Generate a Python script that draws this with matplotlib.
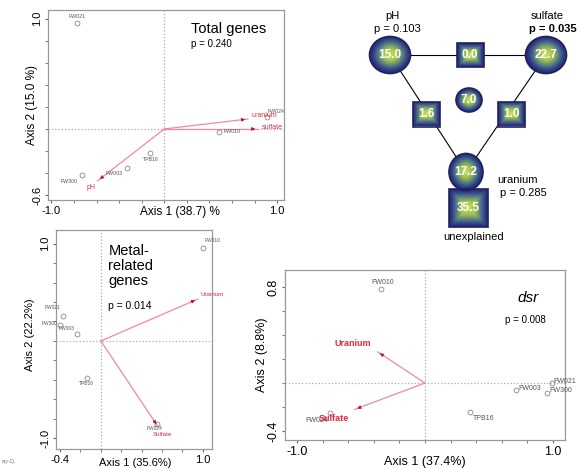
import numpy as np
import matplotlib
matplotlib.use('Agg')
import matplotlib.pyplot as plt
from matplotlib.patches import Ellipse, Rectangle
from matplotlib.colors import LinearSegmentedColormap
from matplotlib.ticker import MultipleLocator

plt.rcParams['font.family'] = ['Liberation Sans', 'DejaVu Sans']

# Total genes (CCA)
total_sites = ['FW021', 'FW300', 'FW003', 'TPB16', 'FW010', 'FW024']
total_x = [-0.77, -0.73, -0.33, -0.13, 0.48, 0.91]
total_y = [0.96, -0.42, -0.35, -0.22, -0.03, 0.11]
total_vars = ['pH', 'uranium', 'sulfate']
total_vx = [-0.59, 0.74, 0.83]
total_vy = [-0.47, 0.09, 0.0]

# Metal-related genes
metal_sites = ['FW010', 'FW021', 'FW300', 'FW003', 'TPB16', 'FW024']
metal_x = [1.0, -0.37, -0.40, -0.23, -0.14, 0.55]
metal_y = [0.96, 0.26, 0.16, 0.07, -0.38, -0.85]
metal_vars = ['Uranium', 'Sulfate']
metal_vx = [0.95, 0.56]
metal_vy = [0.43, -0.88]

# dsr
dsr_sites = ['FW010', 'FW003', 'FW021', 'FW300', 'TPB16', 'FW024']
dsr_x = [-0.34, 0.71, 0.99, 0.95, 0.35, -0.74]
dsr_y = [0.78, -0.06, 0.0, -0.08, -0.24, -0.25]
dsr_vars = ['Uranium', 'Sulfate']
dsr_vx = [-0.37, -0.55]
dsr_vy = [0.26, -0.22]

# variation partitioning (%)
part_names = ['pH', 'sulfate', 'uranium']
part_single = [15.0, 22.7, 17.2]
part_pvals = ['0.103', '0.035', '0.285']
part_pairs = [0.0, 1.6, 1.0]   # pH-sulfate, pH-uranium, sulfate-uranium
part_all = 7.0
part_unexplained = 35.5

W, H = 579, 468
fig = plt.figure(figsize=(W / 100, H / 100), dpi=100)

GREY = '#999999'
LINE = '#f28a9c'
RED = '#e3283e'
HEAD = '#b01830'


def px_axes(l, r, t, b):
    return fig.add_axes([l / W, 1 - b / H, (r - l) / W, (b - t) / H])


def setup(ax, xlim, ylim, xt, yt, tsize):
    ax.set_xlim(xlim)
    ax.set_ylim(ylim)
    for s in ax.spines.values():
        s.set_color(GREY)
        s.set_linewidth(0.9)
    ax.set_xticks(xt)
    ax.set_yticks(yt)
    ax.set_xticklabels(['%.1f' % v for v in xt])
    ax.set_yticklabels(['%.1f' % v for v in yt], rotation=90, va='center')
    ax.xaxis.set_minor_locator(MultipleLocator(0.2))
    ax.yaxis.set_minor_locator(MultipleLocator(0.2))
    ax.tick_params(which='both', length=2, color='#666666', labelsize=tsize, pad=2)
    ax.axhline(0, color='#aaaaaa', ls=':', lw=0.9, zorder=1)
    ax.axvline(0, color='#aaaaaa', ls=':', lw=0.9, zorder=1)


def sites(ax, names, xs, ys, offs, size):
    ax.plot(xs, ys, 'o', mfc='none', mec='#888888', ms=3.5, mew=0.6, zorder=3)
    for n, x, y, (dx, dy, ha) in zip(names, xs, ys, offs):
        ax.annotate(n, (x, y), xytext=(dx, dy), textcoords='offset pixels',
                    ha=ha, va='center', fontsize=size, color='#555555', zorder=4)


def vectors(ax, names, xs, ys, offs, size, bold=False):
    for n, x, y, (dx, dy, ha) in zip(names, xs, ys, offs):
        ax.plot([0, x], [0, y], color=LINE, lw=0.9, zorder=2)
        ax.annotate('', xy=(x, y), xytext=(0.9 * x, 0.9 * y),
                    arrowprops=dict(arrowstyle='-|>', color=HEAD, lw=0.6, mutation_scale=5), zorder=3)
        ax.annotate(n, (x, y), xytext=(dx, dy), textcoords='offset pixels', ha=ha, va='center',
                    fontsize=size, color=RED, fontweight='bold' if bold else 'normal', zorder=4)


# --- Total genes
ax1 = px_axes(48, 284, 10, 200)
setup(ax1, (-1.03, 1.06), (-0.645, 1.08), [-1.0, 1.0], [-0.6, 1.0], 8)
sites(ax1, total_sites, total_x, total_y,
      [(0, 7, 'center'), (-4, -6, 'right'), (-4, -6, 'right'), (1, -6, 'center'), (5, 1, 'left'), (1, 5, 'left')], 3.8)
vectors(ax1, total_vars, total_vx, total_vy, [(-7, -7, 'center'), (4, 4, 'left'), (4, 1, 'left')], 5)
ax1.text(0.604, 0.9, 'Total genes', transform=ax1.transAxes, fontsize=10.5, va='center')
ax1.text(0.604, 0.82, 'p = 0.240', transform=ax1.transAxes, fontsize=7, va='center')
ax1.text(0.56, -0.063, 'Axis 1 (38.7) %', transform=ax1.transAxes, fontsize=8.5, ha='center', va='center')
ax1.text(-0.068, 0.5, 'Axis 2 (15.0 %)', transform=ax1.transAxes, fontsize=8.5, ha='center', va='center', rotation=90)

# --- Metal-related genes
ax3 = px_axes(56, 212, 230, 449)
setup(ax3, (-0.44, 1.09), (-1.11, 1.14), [-0.4, 1.0], [-1.0, 1.0], 8)
sites(ax3, metal_sites, metal_x, metal_y,
      [(2, 7, 'left'), (-3, 8, 'right'), (-3, 2, 'right'), (-3, 6, 'right'), (0, -6, 'center'), (-2, -5, 'center')], 3.5)
vectors(ax3, metal_vars, metal_vx, metal_vy, [(3, 5, 'left'), (4, -8, 'center')], 4.5)
ax3.text(0.335, 0.935, 'Metal-\nrelated\ngenes', transform=ax3.transAxes, fontsize=10.5, va='top', linespacing=1.1)
ax3.text(0.335, 0.655, 'p = 0.014', transform=ax3.transAxes, fontsize=7.5, va='center')
ax3.text(0.51, -0.064, 'Axis 1 (35.6%)', transform=ax3.transAxes, fontsize=8, ha='center', va='center')
ax3.text(-0.167, 0.52, 'Axis 2 (22.2%)', transform=ax3.transAxes, fontsize=8, ha='center', va='center', rotation=90)
fig.text(2 / W, 1 - 461 / H, 'ary-1).', fontsize=3.5, color='#666666', va='center')

# --- dsr
ax4 = px_axes(285, 565, 270, 440)
setup(ax4, (-1.094, 1.094), (-0.475, 0.942), [-1.0, 1.0], [-0.4, 0.8], 9)
sites(ax4, dsr_sites, dsr_x, dsr_y,
      [(1, 7, 'center'), (3, 2, 'left'), (2, 2, 'left'), (3, 2, 'left'), (3, -7, 'left'), (-14, -7, 'center')], 5)
vectors(ax4, dsr_vars, dsr_vx, dsr_vy, [(-25, 8, 'center'), (-21, -9, 'center')], 6.5, bold=True)
ax4.text(0.868, 0.835, 'dsr', transform=ax4.transAxes, fontsize=11, style='italic', ha='center', va='center')
ax4.text(0.785, 0.705, 'p = 0.008', transform=ax4.transAxes, fontsize=7, va='center')
ax4.text(0.5, -0.13, 'Axis 1 (37.4%)', transform=ax4.transAxes, fontsize=9, ha='center', va='center')
ax4.text(-0.082, 0.5, 'Axis 2 (8.8%)', transform=ax4.transAxes, fontsize=9, ha='center', va='center', rotation=90)

# --- variation partitioning diagram, drawn in pixel coordinates
axd = fig.add_axes([0, 0, 1, 1])
axd.set_xlim(0, W)
axd.set_ylim(H, 0)
axd.axis('off')
axd.patch.set_alpha(0)

cmap = LinearSegmentedColormap.from_list(
    'vp', [(0, '#d2e45a'), (0.35, '#9cc050'), (0.65, '#4d7488'), (0.85, '#303f88'), (1, '#262a70')])
NAVY = '#20225e'


def blob(cx, cy, w, h, value, kind, fs=8.5):
    yy, xx = np.mgrid[-1:1:80j, -1:1:80j]
    if kind == 'circle':
        d = np.sqrt(xx ** 2 + yy ** 2)
        p = Ellipse((cx, cy), w, h, fc='none', ec=NAVY, lw=1.2, zorder=5)
    else:
        d = np.maximum(abs(xx), abs(yy))
        p = Rectangle((cx - w / 2, cy - h / 2), w, h, fc='none', ec=NAVY, lw=1.2, zorder=5)
    im = axd.imshow(np.clip(d, 0, 1), cmap=cmap, vmin=0, vmax=1, extent=(cx - w / 2, cx + w / 2, cy + h / 2, cy - h / 2),
                    aspect='auto', interpolation='bilinear', zorder=4)
    axd.add_patch(p)
    im.set_clip_path(p)
    axd.text(cx, cy, '%.1f' % value, color='white', fontweight='bold', fontsize=fs, ha='center', va='center', zorder=6)


centres = [(390, 55), (546, 55), (466, 172)]
for i, j in [(0, 1), (0, 2), (1, 2)]:
    axd.plot([centres[i][0], centres[j][0]], [centres[i][1], centres[j][1]], color='black', lw=0.8, zorder=2)

blob(390, 55, 41, 37, part_single[0], 'circle')
blob(546, 55, 41, 37, part_single[1], 'circle')
blob(466, 172, 34, 37, part_single[2], 'circle')
blob(470, 55, 27, 24, part_pairs[0], 'square')
blob(426, 114, 27, 25, part_pairs[1], 'square')
blob(511, 114, 27, 25, part_pairs[2], 'square')
blob(469, 100, 26, 24, part_all, 'circle')
blob(468, 208, 39, 38, part_unexplained, 'square')

axd.text(392, 16, part_names[0], fontsize=8, ha='center', va='center')
axd.text(397, 29, 'p = ' + part_pvals[0], fontsize=8, ha='center', va='center')
axd.text(547, 16, part_names[1], fontsize=8, ha='center', va='center')
axd.text(529, 29, 'p = ' + part_pvals[1], fontsize=8, fontweight='bold', ha='left', va='center')
axd.text(497, 180, part_names[2], fontsize=8, ha='left', va='center')
axd.text(500, 193, 'p = ' + part_pvals[2], fontsize=8, ha='left', va='center')
axd.text(474, 237, 'unexplained', fontsize=8, ha='center', va='center')

fig.savefig('out.png', dpi=100)
